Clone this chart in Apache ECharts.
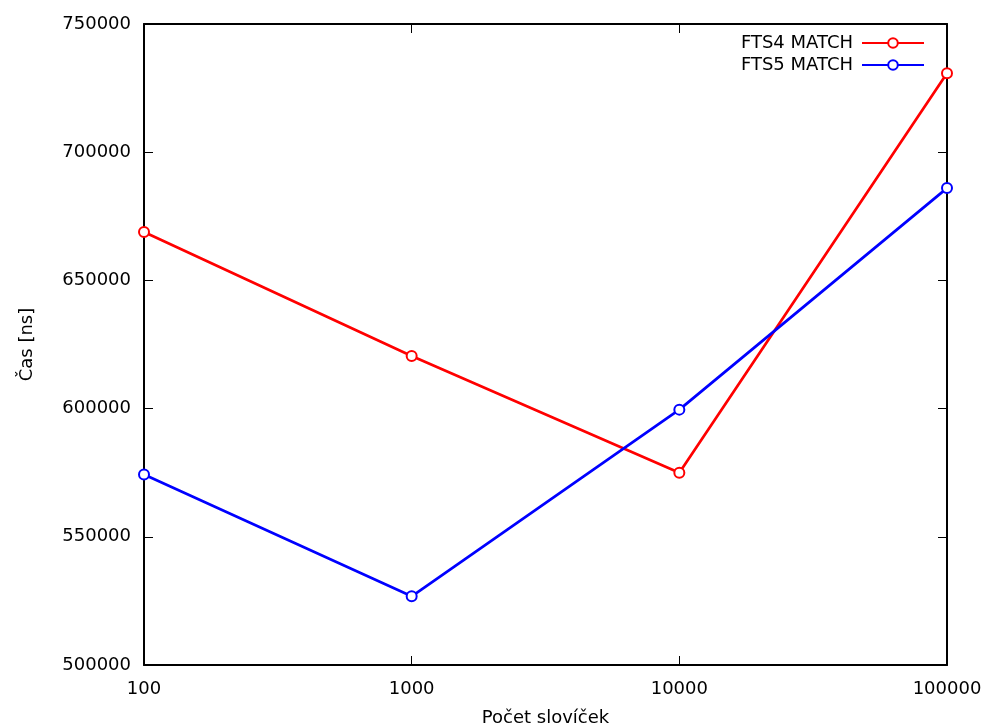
<!DOCTYPE html>
<html>
<head>
<meta charset="utf-8">
<script src="https://cdn.jsdelivr.net/npm/echarts@6/dist/echarts.min.js"></script>
<style>html,body{margin:0;padding:0;background:#fff}#c{width:986px;height:726px}</style>
</head>
<body>
<div id="c"></div>
<script>
var categories = [100, 1000, 10000, 100000];
var fts4 = [668900, 620500, 575000, 730800];
var fts5 = [574300, 526800, 599600, 686000];
var yTicks = [500000, 550000, 600000, 650000, 700000, 750000];

var chart = echarts.init(document.getElementById('c'), null, {renderer: 'canvas'});
var font = 'DejaVu Sans';
var fs = 18;
function pairs(vals) { return categories.map(function (c, i) { return [c, vals[i]]; }); }
var axisLine = {show: true, lineStyle: {color: '#000', width: 2}};
var tick = {show: true, inside: true, length: 9, lineStyle: {color: '#000', width: 1}};
chart.setOption({
  animation: false,
  backgroundColor: '#fff',
  textStyle: {fontFamily: font},
  grid: {left: 144, right: 39, top: 24, bottom: 61, show: false, containLabel: false, outerBoundsMode: 'none'},
  legend: {
    right: 61, top: 34, padding: 0, orient: 'vertical', align: 'right', itemGap: 4,
    itemWidth: 62, itemHeight: 12,
    textStyle: {fontFamily: font, fontSize: fs, color: '#000', padding: [0, 4, 0, 0]},
    data: [{name: 'FTS4 MATCH'}, {name: 'FTS5 MATCH'}]
  },
  xAxis: [{
    type: 'log', logBase: 10, min: categories[0], max: categories[categories.length - 1],
    name: 'Počet slovíček', nameLocation: 'middle', nameGap: 44,
    nameTextStyle: {fontFamily: font, fontSize: fs, color: '#000'},
    axisLine: axisLine, axisTick: tick, minorTick: {show: false},
    axisLabel: {fontFamily: font, fontSize: fs, color: '#000', margin: 15,
      formatter: function (v) { return String(Math.round(v)); }},
    splitLine: {show: false}
  }, {
    type: 'log', logBase: 10, min: categories[0], max: categories[categories.length - 1], position: 'top',
    axisLine: axisLine, axisTick: tick,
    axisLabel: {show: false}, splitLine: {show: false}
  }],
  yAxis: [{
    type: 'value', min: yTicks[0], max: yTicks[yTicks.length - 1], interval: 50000,
    name: 'Čas [ns]', nameLocation: 'middle', nameGap: 108, nameRotate: 90,
    nameTextStyle: {fontFamily: font, fontSize: fs, color: '#000'},
    axisLine: axisLine, axisTick: tick,
    axisLabel: {fontFamily: font, fontSize: fs, color: '#000', margin: 13,
      formatter: function (v) { return String(v); }},
    splitLine: {show: false}
  }, {
    type: 'value', min: yTicks[0], max: yTicks[yTicks.length - 1], interval: 50000, position: 'right',
    axisLine: axisLine, axisTick: tick,
    axisLabel: {show: false}, splitLine: {show: false}
  }],
  series: [{
    name: 'FTS4 MATCH', type: 'line', data: pairs(fts4),
    color: '#ff0000',
    lineStyle: {color: '#ff0000', width: 2.7},
    symbol: 'emptyCircle', symbolSize: 10,
    itemStyle: {color: '#ff0000', borderColor: '#ff0000', borderWidth: 2.6}
  }, {
    name: 'FTS5 MATCH', type: 'line', data: pairs(fts5),
    color: '#0000ff',
    lineStyle: {color: '#0000ff', width: 2.7},
    symbol: 'emptyCircle', symbolSize: 10,
    itemStyle: {color: '#0000ff', borderColor: '#0000ff', borderWidth: 2.6}
  }]
});
</script>
</body>
</html>
